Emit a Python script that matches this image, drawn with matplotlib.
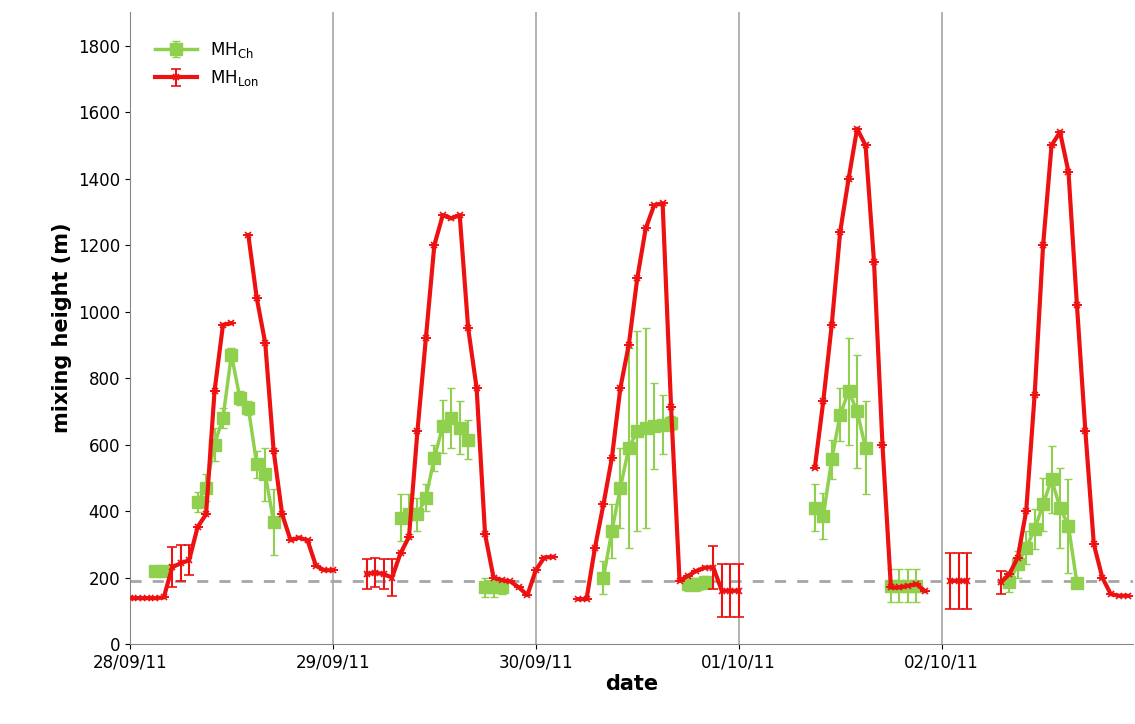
import numpy as np
import matplotlib.pyplot as plt

nan = np.nan

# hours since 28/09/11 00:00
lon_hours = list(range(0, 119))
lon_vals = [
    138, 138, 138, 138, 140, 231, 243, 252, 352, 390, 760, 960, 965, nan, 1230, 1040, 905, 580, 390, 312, 320, 312, 235, 222,
    222, nan, nan, nan, 210, 215, 210, 200, 273, 322, 640, 920, 1200, 1290, 1280, 1290, 950, 770, 330, 200, 192, 188, 170, 147,
    222, 260, 262, nan, nan, 135, 135, 290, 420, 560, 770, 900, 1100, 1250, 1320, 1325, 712, 190, 205, 220, 230, 230, 160, 160,
    160, nan, nan, nan, nan, nan, nan, nan, nan, 530, 730, 960, 1240, 1400, 1550, 1500, 1150, 600, 170, 170, 175, 180, 160, nan,
    nan, 190, 190, 190, nan, nan, nan, 185, 210, 260, 400, 750, 1200, 1500, 1540, 1420, 1020, 640, 300, 200, 150, 145, 145,
]
lon_err = [0] * 119
for i, e in [(5, 60), (6, 55), (7, 45), (28, 45), (29, 45), (30, 45), (31, 55),
             (69, 65), (70, 80), (71, 80), (72, 80), (97, 85), (98, 85), (99, 85), (103, 35)]:
    lon_err[i] = e

ch_hours = [3, 4, 8, 9, 10, 11, 12, 13, 14, 15, 16, 17,
            32, 33, 34, 35, 36, 37, 38, 39, 40, 42, 43, 44,
            56, 57, 58, 59, 60, 61, 62, 63, 64, 66, 67, 68,
            81, 82, 83, 84, 85, 86, 87, 90, 91, 92, 93,
            104, 105, 106, 107, 108, 109, 110, 111, 112]
ch_vals = [220, 220, 427, 470, 600, 680, 870, 740, 710, 540, 510, 367,
           380, 390, 390, 440, 560, 655, 680, 650, 615, 170, 170, 170,
           200, 340, 470, 590, 640, 650, 655, 660, 665, 180, 180, 185,
           410, 385, 555, 690, 760, 700, 590, 175, 175, 175, 175,
           185, 240, 290, 345, 420, 495, 410, 355, 183]
ch_err = [10, 10, 30, 40, 50, 30, 20, 20, 20, 40, 80, 100,
          70, 60, 50, 40, 40, 80, 90, 80, 60, 30, 30, 20,
          50, 80, 120, 300, 300, 300, 130, 90, 20, 20, 20, 20,
          70, 70, 60, 80, 160, 170, 140, 50, 50, 50, 50,
          30, 40, 50, 60, 80, 100, 120, 140, 10]

day_labels = ["28/09/11", "29/09/11", "30/09/11", "01/10/11", "02/10/11"]
threshold = 190

# place the Ch values on the hourly grid so missing hours break the line
ch_full = np.full(len(lon_hours), nan)
ch_full_err = np.zeros(len(lon_hours))
ch_full[ch_hours] = ch_vals
ch_full_err[ch_hours] = ch_err

green = "#8fd14f"
red = "#ee1111"

fig = plt.figure(figsize=(11.35, 7.24), dpi=100)
ax = fig.add_axes([0.1145, 0.1105, 0.8835, 0.8725])

for d in range(1, 5):
    ax.axvline(d * 24, color="#a6a6a6", lw=1.2, zorder=0)
ax.axhline(threshold, color="#a6a6a6", lw=2, ls=(0, (4, 4)), zorder=1)

ax.errorbar(lon_hours, ch_full, yerr=ch_full_err, color=green, marker="s", ms=8,
            lw=2.5, elinewidth=1.5, capsize=3, label="MH$_{\\mathrm{Ch}}$", zorder=2)
ax.errorbar(lon_hours, lon_vals, yerr=lon_err, color=red, marker="x", ms=5, mew=1.2,
            lw=3, elinewidth=1.5, capsize=3.5, label="MH$_{\\mathrm{Lon}}$", zorder=3)

ax.set_xlim(0, 118.6)
ax.set_ylim(0, 1900)
ax.set_yticks(range(0, 1801, 200))
ax.set_xticks([0, 24, 48, 72, 96])
ax.set_xticklabels(day_labels)
ax.tick_params(labelsize=12)
ax.set_xlabel("date", fontsize=15, fontweight="bold", labelpad=2)
ax.set_ylabel("mixing height (m)", fontsize=15, fontweight="bold")
for s in ["top", "right"]:
    ax.spines[s].set_visible(False)
ax.spines["left"].set_color("#888888")
ax.spines["bottom"].set_color("#888888")

ax.legend(loc="upper left", bbox_to_anchor=(0.01, 0.98), frameon=False, fontsize=12, handlelength=2.5)

plt.savefig("out.png", dpi=100)
